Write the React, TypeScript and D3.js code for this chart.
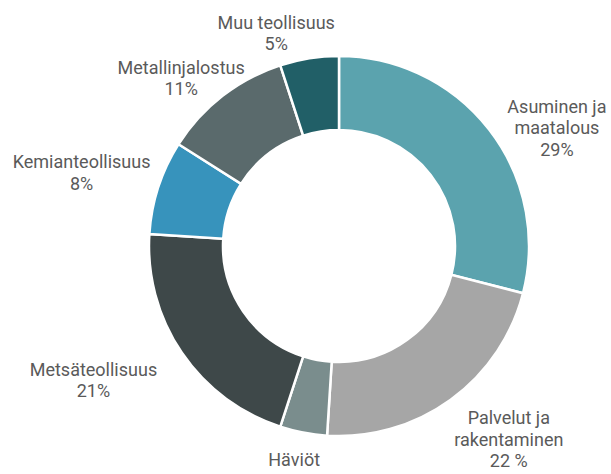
import React from "react";
import * as d3 from "d3";

const categories = [
  "Asuminen ja maatalous",
  "Palvelut ja rakentaminen",
  "Häviöt",
  "Metsäteollisuus",
  "Kemianteollisuus",
  "Metallinjalostus",
  "Muu teollisuus",
];
const values = [29, 22, 4, 21, 8, 11, 5];
const labelLines = [
  ["Asuminen ja", "maatalous", "29%"],
  ["Palvelut ja", "rakentaminen", "22 %"],
  ["Häviöt"],
  ["Metsäteollisuus", "21%"],
  ["Kemianteollisuus", "8%"],
  ["Metallinjalostus", "11%"],
  ["Muu teollisuus", "5%"],
];
const colors = ["#5ba3ae", "#a6a6a6", "#7a8d8d", "#3e4849", "#3793bc", "#5a6a6c", "#215f67"];

// label placement: angle shift (deg) from slice mid-angle and distance from centre
const labelPlacement = [
  { shift: 10.6, dist: 245 },
  { shift: -4.4, dist: 262 },
  { shift: 0.7, dist: 225 },
  { shift: 4.4, dist: 283 },
  { shift: -3.4, dist: 266 },
  { shift: -6.5, dist: 226 },
  { shift: -7.9, dist: 216 },
];

const W = 611;
const H = 474;
const cx = 339;
const cy = 246;
const outerR = 190;
const innerR = 116;
const lineH = 21.5;

export default function App() {
  const data = categories.map((c, i) => ({ c, v: values[i], i }));
  const pie = d3.pie<any>().value((d) => d.v).sort(null);
  const arcs = pie(data);
  const arc = d3.arc<any>().innerRadius(innerR).outerRadius(outerR);

  return (
    <svg
      width={W}
      height={H}
      style={{ position: "absolute", left: 0, top: 0, background: "#fff" }}
    >
      <g transform={`translate(${cx},${cy})`}>
        {arcs.map((a, i) => (
          <path key={i} d={arc(a) || ""} fill={colors[i]} stroke="#fff" strokeWidth={2.5} />
        ))}
        {arcs.map((a, i) => {
          const mid = (a.startAngle + a.endAngle) / 2 + (labelPlacement[i].shift * Math.PI) / 180;
          const r = labelPlacement[i].dist;
          const x = Math.sin(mid) * r;
          const y = -Math.cos(mid) * r;
          const lines = labelLines[i];
          const n = lines.length;
          return (
            <text
              key={"t" + i}
              x={x}
              y={y}
              textAnchor="middle"
              fill="#5a5a5a"
              style={{ fontFamily: "Roboto, sans-serif", fontSize: 18 }}
            >
              {lines.map((l, j) => (
                <tspan key={j} x={x} y={y + (j - (n - 1) / 2) * lineH}>
                  {l}
                </tspan>
              ))}
            </text>
          );
        })}
      </g>
    </svg>
  );
}
